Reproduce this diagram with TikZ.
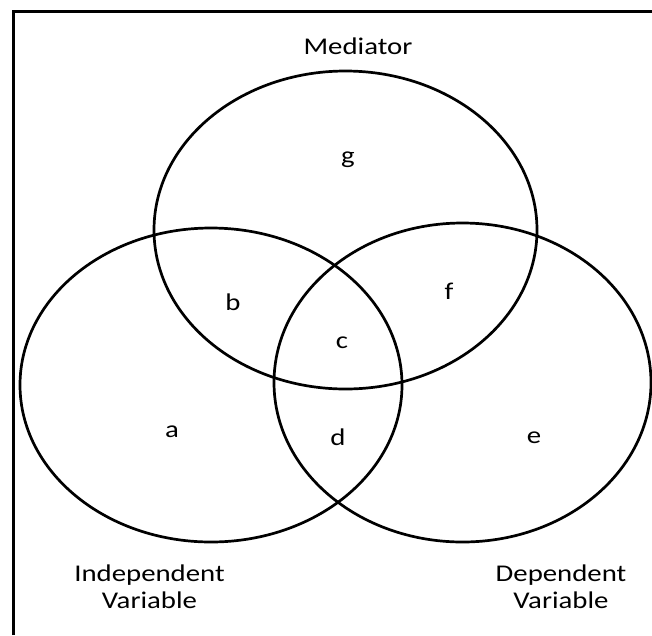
\documentclass[tikz,border=0pt]{standalone}
\usepackage{fontspec}
\setmainfont{Carlito}[FakeStretch=1.2]
\usetikzlibrary{shapes.geometric}
\begin{document}
\begin{tikzpicture}[x=1pt,y=-1pt,
    lingkar/.style={draw,ellipse,line width=2.7pt,inner sep=0pt},
    huruf/.style={font=\fontsize{24}{27}\selectfont,inner sep=0pt},
    judul/.style={huruf,align=center}]
  \useasboundingbox (0,0) rectangle (652,635);

  % Bingkai (hanya kiri dan atas yang tampak)
  \draw[line width=3pt] (13,635) -- (13,11) -- (652,11);

  % Tiga elips
  \node[lingkar,minimum width=383pt,minimum height=318pt] (med) at (345.5,230) {};
  \node[lingkar,minimum width=382pt,minimum height=314pt] (iv) at (211,385) {};
  \node[lingkar,minimum width=377pt,minimum height=319pt] (dv) at (462.5,382.5) {};

  % Judul tiap elips
  \node[judul] (tmed) at (358,46) {Mediator};
  \node[judul] (tiv) at (149.5,587) {Independent\\Variable};
  \node[judul] (tdv) at (561,587) {Dependent\\Variable};

  % Huruf tiap daerah
  \node[huruf] (g) at (348,160) {g};
  \node[huruf] (b) at (233,302) {b};
  \node[huruf] (c) at (342,343) {c};
  \node[huruf] (f) at (449,291) {f};
  \node[huruf] (a) at (172,432) {a};
  \node[huruf] (d) at (338,437) {d};
  \node[huruf] (e) at (534,438) {e};
\end{tikzpicture}
\end{document}
